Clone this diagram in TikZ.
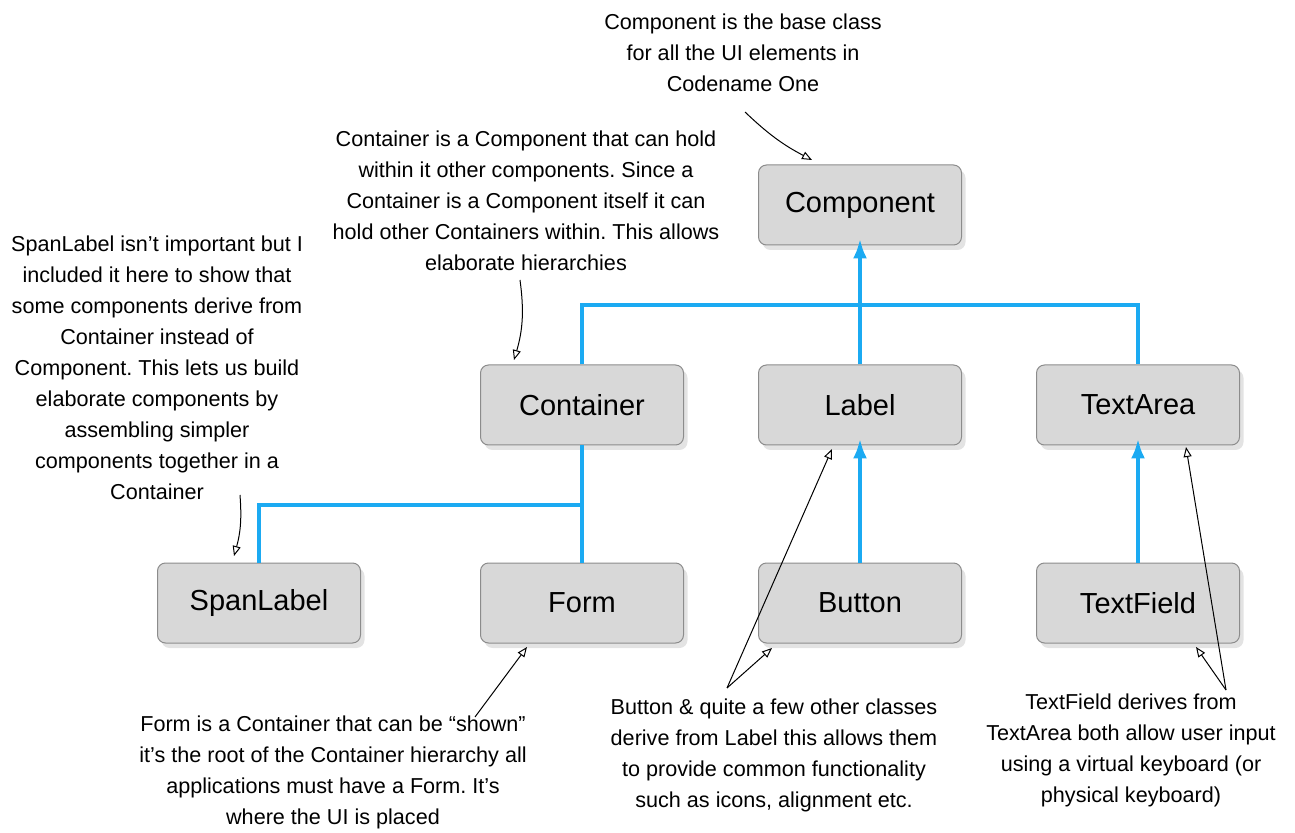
\documentclass[tikz,border=0pt]{standalone}
\usepackage{fontspec}
\setmainfont{Liberation Sans}
\usetikzlibrary{arrows.meta,shadows}
\frenchspacing
\definecolor{busblue}{RGB}{27,170,242}
\definecolor{boxgray}{RGB}{216,216,216}
\tikzset{
  cls/.style={draw=gray!90,line width=0.5pt,fill=boxgray,rounded corners=4pt,minimum width=101.5pt,minimum height=40pt,
    font=\fontsize{14.5}{17}\selectfont,drop shadow={opacity=0.22,shadow xshift=2pt,shadow yshift=-2.5pt}},
  note/.style={align=center,inner sep=0pt,font=\fontsize{10.8}{15.5}\selectfont},
  bus/.style={draw=busblue,line width=2pt},
  isa/.style={bus,-{Latex[length=10pt,width=7pt]},shorten >=-3.5pt},
  hint/.style={draw=black,line width=0.5pt,-{Triangle[open,length=5pt,width=4pt]}}
}
\begin{document}
\begin{tikzpicture}[x=0.5pt,y=-0.5pt] % one unit = one pixel of the reference
\useasboundingbox (0,0) rectangle (1295,833);
				% classes
				\node[cls](Comp) at (860,205) {Component};
				\node[cls](Cont) at (582,405) {Container};\node[cls](Lab) at (860,405) {Label};\node[cls](TA) at (1138,405) {TextArea};
				\node[cls](SL) at (259,603) {SpanLabel};\node[cls](Fm) at (582,603) {Form};
				\node[cls](Btn) at (860,603) {Button};\node[cls](TF) at (1138,603) {TextField};
				% inheritance lines
				\coordinate(bus1) at (860,305);\coordinate(bus2) at (582,505);
				\draw[bus] (Cont.north) |- (bus1) -| (TA.north);
				\draw[isa] (Lab.north) -- (Comp.south);
				\draw[bus] (Cont.south) -- (Fm.north);\draw[bus] (SL.north) |- (bus2);
				\draw[isa] (Btn.north) -- (Lab.south);\draw[isa] (TF.north) -- (TA.south);
				% notes
				\node[note](T1) at (743,53) {Component is the base class\\for all the UI elements in\\Codename One};
				\node[note](T2) at (526,201) {Container is a Component that can hold\\within it other components. Since a\\Container is a Component itself it can\\hold other Containers within. This allows\\elaborate hierarchies};
				\node[note](T3) at (157,368) {SpanLabel isn’t important but I\\included it here to show that\\some components derive from\\Container instead of\\Component. This lets us build\\elaborate components by\\assembling simpler\\components together in a\\Container};
				\node[note](T4) at (333,772) {Form is a Container that can be “shown”\\it’s the root of the Container hierarchy all\\applications must have a Form. It’s\\where the UI is placed};
				\node[note](T5) at (774,755) {Button \& quite a few other classes\\derive from Label this allows them\\to provide common functionality\\such as icons, alignment etc.};
				\node[note](T6) at (1131,750) {TextField derives from\\TextArea both allow user input\\using a virtual keyboard (or\\physical keyboard)};
				% pointers
				\coordinate(a1) at (745,112);\coordinate(b1) at (812,160);
				\coordinate(a2) at (520,280);\coordinate(b2) at (514,360);
				\coordinate(a3) at (240,495);\coordinate(b3) at (234,556);
				\coordinate(a4) at (475,717);\coordinate(b4) at (527,647);
				\coordinate(a5) at (727,688);\coordinate(b5) at (832,449);\coordinate(c5) at (772,648);
				\coordinate(a6) at (1226,690);\coordinate(b6) at (1186,447);\coordinate(c6) at (1196,647);
				\draw[hint] (a1) to[bend right=8] (b1);
				\draw[hint] (a2) to[bend left=12] (b2);
				\draw[hint] (a3) to[bend left=10] (b3);
				\draw[hint] (a4) -- (b4);
				\draw[hint] (a5) -- (b5);\draw[hint] (a5) -- (c5);
				\draw[hint] (a6) -- (b6);\draw[hint] (a6) -- (c6);
\end{tikzpicture}
\end{document}
